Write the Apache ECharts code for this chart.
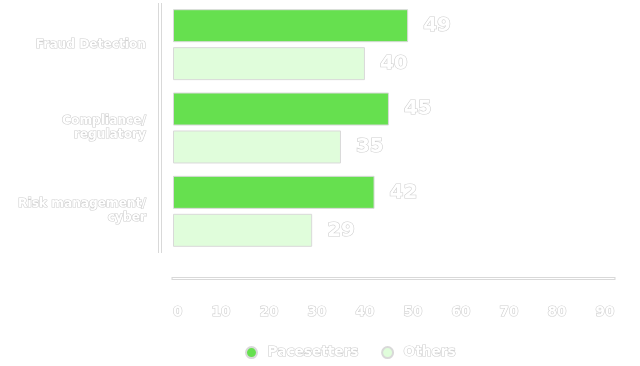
<!DOCTYPE html>
<html>
<head>
<meta charset="utf-8">
<script src="https://cdn.jsdelivr.net/npm/echarts@6/dist/echarts.min.js"></script>
<style>html,body{margin:0;padding:0;background:#fff}#c{width:640px;height:366px}</style>
</head>
<body>
<div id="c"></div>
<script>
const categories = ['Fraud Detection', 'Compliance/\nregulatory', 'Risk management/\ncyber'];
const seriesNames = ['Pacesetters', 'Others'];
const pacesetters = [49, 45, 42];
const others = [40, 35, 29];
const xMin = 0, xMax = 90, xInterval = 10;

const FONT = '"DejaVu Sans"';
const outlined = (size) => ({
  color: '#ffffff', textBorderColor: '#cfcfcf', textBorderWidth: 1.2,
  fontFamily: FONT, fontWeight: 700, fontSize: size
});

const chart = echarts.init(document.getElementById('c'), null, {renderer: 'canvas'});
const gridAxisMax = 91.9;
chart.setOption({
  animation: false,
  backgroundColor: '#ffffff',
  grid: {left: 173, right: 26, top: 3, bottom: 113, containLabel: false},
  legend: {
    data: seriesNames, left: 240, top: 340, icon: 'circle',
    itemWidth: 22, itemHeight: 11, itemGap: 22,
    textStyle: outlined(13.7)
  },
  xAxis: [{
    type: 'value', min: xMin, max: gridAxisMax, interval: xInterval, offset: 25,
    axisLine: {show: true, onZero: false, lineStyle: {color: '#d9d9d9', width: 3, cap: 'square'}},
    axisTick: {show: false}, splitLine: {show: false},
    axisLabel: Object.assign({margin: 27, showMaxLabel: false, alignMinLabel: 'left'}, outlined(13.5))
  }, {
    type: 'value', min: xMin, max: gridAxisMax, interval: xInterval, offset: 25, position: 'bottom', z: 5,
    axisLine: {show: true, onZero: false, lineStyle: {color: '#ffffff', width: 1}},
    axisTick: {show: false}, splitLine: {show: false}, axisLabel: {show: false}
  }],
  yAxis: [{
    type: 'category', data: categories, inverse: true, offset: 13,
    axisLine: {show: true, onZero: false, lineStyle: {color: '#d9d9d9', width: 4, cap: 'butt'}},
    axisTick: {show: false},
    axisLabel: Object.assign({margin: 14, lineHeight: 14, align: 'right'}, outlined(12.2))
  }, {
    type: 'category', data: categories, inverse: true, offset: 13, position: 'left', z: 5,
    axisLine: {show: true, onZero: false, lineStyle: {color: '#ffffff', width: 2}},
    axisTick: {show: false}, axisLabel: {show: false}
  }],
  series: [{
    name: seriesNames[0], type: 'bar', data: pacesetters,
    barWidth: 33, barGap: '15%',
    itemStyle: {color: '#66e04f', borderColor: '#d9d9d9', borderWidth: 1},
    label: Object.assign({show: true, position: 'right', distance: 15}, outlined(20))
  }, {
    name: seriesNames[1], type: 'bar', data: others,
    barWidth: 33, barGap: '15%',
    itemStyle: {color: '#e0fddb', borderColor: '#d9d9d9', borderWidth: 1},
    label: Object.assign({show: true, position: 'right', distance: 15}, outlined(20))
  }]
});
</script>
</body>
</html>
